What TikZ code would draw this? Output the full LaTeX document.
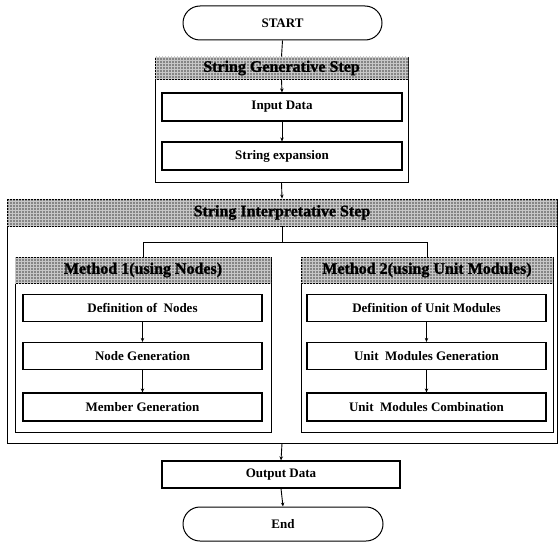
\documentclass[tikz,border=0pt]{standalone}
\usepackage{fontspec}
\setmainfont{Liberation Serif}
\newfontfamily\hdrfont{Liberation Serif}[FakeBold=1.2]
\usetikzlibrary{shapes.misc,patterns,arrows.meta}
\tikzset{
  frame/.style={draw, line width=0.9pt, inner sep=0pt},
  hdr/.style={draw, line width=0.9pt, inner sep=0pt, fill=black!48,
    postaction={pattern=grid, pattern color=black!22},
    font=\hdrfont\bfseries\fontsize{16}{18}\selectfont},
  box/.style={draw, line width=1.2pt, inner sep=0pt, fill=white,
    font=\bfseries\fontsize{13}{15}\selectfont},
  term/.style={draw, line width=1pt, rounded rectangle, inner sep=0pt,
    font=\bfseries\fontsize{13}{15}\selectfont},
  conn/.style={line width=0.9pt},
  arr/.style={line width=0.9pt, -{Stealth[length=4pt,width=3.5pt]}}
}
\begin{document}
\begin{tikzpicture}[x=1pt,y=-1pt]
\useasboundingbox (0,0) rectangle (559,543);
% start
\node[term, minimum width=199pt, minimum height=34pt] (start) at (282.5,23) {START};
% generative step
\node[frame, minimum width=253pt, minimum height=125pt] (gen) at (281.5,119.5) {};
\node[hdr, minimum width=253pt, minimum height=22pt] (genband) at (281.5,68) {String Generative Step};
\node[box, minimum width=240pt, minimum height=28pt] (input) at (282,107) {Input Data};
\node[box, minimum width=240pt, minimum height=28pt] (se) at (282,156) {String expansion};
% interpretative step
\node[frame, minimum width=550pt, minimum height=244pt] (int) at (282,321) {};
\node[hdr, minimum width=550pt, minimum height=27pt] (intband) at (282,212.5) {String Interpretative Step};
% method 1
\node[frame, minimum width=256pt, minimum height=175pt] (m1) at (143,344.5) {};
\node[hdr, minimum width=256pt, minimum height=26pt] (m1band) at (143,270) {Method 1(using Nodes)};
\node[box, minimum width=239pt, minimum height=27pt] (def1) at (142.5,308) {Definition of\hspace{0.25em} Nodes};
\node[box, minimum width=239pt, minimum height=27pt] (gen1) at (142.5,356) {Node Generation};
\node[box, minimum width=239pt, minimum height=28pt] (mem1) at (142.5,407) {Member Generation};
% method 2
\node[frame, minimum width=252pt, minimum height=175pt] (m2) at (427,344.5) {};
\node[hdr, minimum width=252pt, minimum height=26pt] (m2band) at (427,270) {Method 2(using Unit Modules)};
\node[box, minimum width=239pt, minimum height=27pt] (def2) at (426.5,308) {Definition of Unit Modules};
\node[box, minimum width=239pt, minimum height=27pt] (gen2) at (426.5,356) {Unit\hspace{0.25em} Modules Generation};
\node[box, minimum width=239pt, minimum height=28pt] (com2) at (426.5,407) {Unit\hspace{0.25em} Modules Combination};
% output and end
\node[box, minimum width=238pt, minimum height=27pt] (out) at (281,474.5) {Output Data};
\node[term, minimum width=200pt, minimum height=34pt] (end) at (283,524) {End};
% connectors
\coordinate (j) at (282,242);
\draw[conn] (start.south) -- (genband.north);
\draw[arr] (genband.south) -- (input.north);
\draw[arr] (input.south) -- (se.north);
\draw[arr] (gen.south) -- (intband.north);
\draw[conn] (intband.south) -- (j);
\draw[conn] (m1band.north) -- (m1band.north |- j) -- (m2band.north |- j) -- (m2band.north);
\draw[arr] (def1.south) -- (gen1.north);
\draw[arr] (gen1.south) -- (mem1.north);
\draw[arr] (def2.south) -- (gen2.north);
\draw[arr] (gen2.south) -- (com2.north);
\draw[arr] (int.south) -- (out.north);
\draw[arr] (out.south) -- (end.north);
\end{tikzpicture}
\end{document}
